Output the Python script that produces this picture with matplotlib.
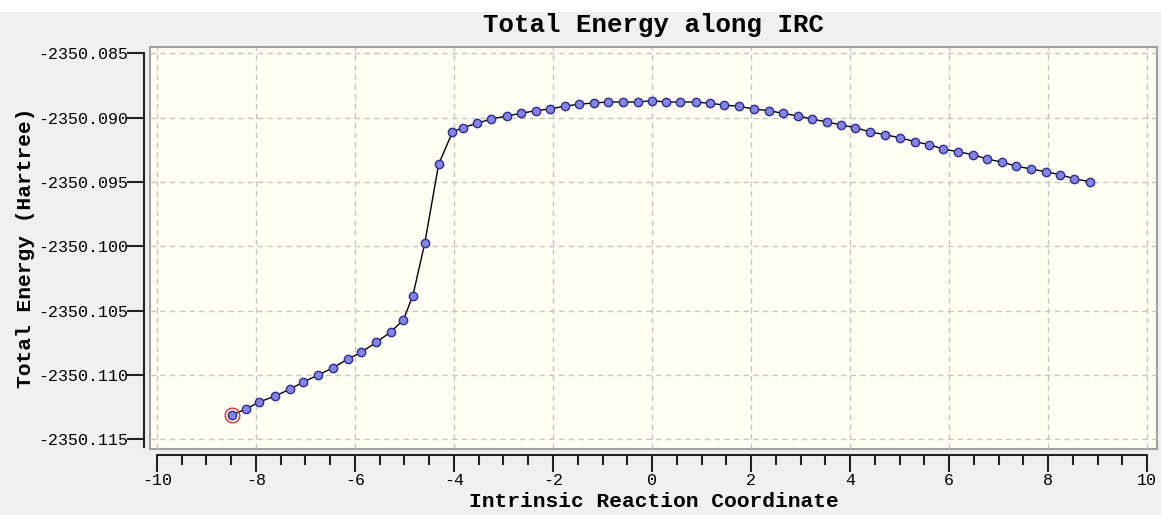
import matplotlib
matplotlib.use("Agg")
import matplotlib.pyplot as plt
from matplotlib.ticker import FixedLocator, MultipleLocator, FuncFormatter
from matplotlib.patches import Rectangle

# ---- data ----
irc = [-8.49, -8.21, -7.93, -7.61, -7.32, -7.04, -6.74, -6.44, -6.15, -5.87,
       -5.57, -5.28, -5.02, -4.83, -4.59, -4.31, -4.03, -3.82, -3.53, -3.25,
       -2.93, -2.64, -2.35, -2.07, -1.75, -1.47, -1.18, -0.89, -0.59, -0.29,
       0.00, 0.29, 0.57, 0.88, 1.18, 1.46, 1.75, 2.06, 2.36, 2.64,
       2.94, 3.24, 3.54, 3.82, 4.11, 4.41, 4.71, 5.00, 5.31, 5.60,
       5.88, 6.18, 6.48, 6.77, 7.06, 7.35, 7.65, 7.95, 8.24, 8.53, 8.84]
energy = [-2350.11311, -2350.11267, -2350.11210, -2350.11164, -2350.11112,
          -2350.11055, -2350.11000, -2350.10944, -2350.10878, -2350.10824,
          -2350.10746, -2350.10668, -2350.10570, -2350.10383, -2350.09975,
          -2350.09363, -2350.09111, -2350.09077, -2350.09044, -2350.09011,
          -2350.08987, -2350.08966, -2350.08946, -2350.08933, -2350.08910,
          -2350.08896, -2350.08886, -2350.08879, -2350.08879, -2350.08879,
          -2350.08868, -2350.08879, -2350.08879, -2350.08879, -2350.08889,
          -2350.08902, -2350.08912, -2350.08933, -2350.08946, -2350.08966,
          -2350.08987, -2350.09011, -2350.09034, -2350.09057, -2350.09078,
          -2350.09112, -2350.09133, -2350.09156, -2350.09187, -2350.09210,
          -2350.09244, -2350.09265, -2350.09288, -2350.09322, -2350.09345,
          -2350.09376, -2350.09399, -2350.09420, -2350.09444, -2350.09475,
          -2350.09498]
x_ticks = [-10, -8, -6, -4, -2, 0, 2, 4, 6, 8, 10]
y_ticks = [-2350.115, -2350.110, -2350.105, -2350.100, -2350.095, -2350.090, -2350.085]
title = "Total Energy along IRC"
x_label = "Intrinsic Reaction Coordinate"
y_label = "Total Energy (Hartree)"

W, H = 1161, 515
fig = plt.figure(figsize=(W / 100, H / 100), dpi=100)
fig.patch.set_facecolor("#f0f0f0")
# white strip at top
fig.patches.append(Rectangle((0, 1 - 12 / H), 1, 12 / H, transform=fig.transFigure,
                             facecolor="white", edgecolor="none", zorder=0))

left, right, top, bottom = 150, 1157, 47, 449
ax = fig.add_axes([left / W, 1 - bottom / H, (right - left) / W, (bottom - top) / H])
ax.set_facecolor("#fffff4")
ax.patch.set_edgecolor("#a0a0a0")
ax.patch.set_linewidth(1.5)

ax.set_xlim(-10.14, 10.20)
ax.set_ylim(-2350.11576, -2350.08451)

mono = "Liberation Mono"

ax.plot(irc, energy, color="black", lw=1.0, zorder=3)
ax.plot(irc, energy, linestyle="none", marker="o", ms=6, mfc="#8585e0",
        mec="#2b2b9c", mew=1.0, zorder=4)
ax.plot(irc[0], energy[0], linestyle="none", marker="o", ms=10.5, mfc="none",
        mec="#e03030", mew=1.0, zorder=5)

ax.xaxis.set_major_locator(FixedLocator(x_ticks))
ax.xaxis.set_minor_locator(MultipleLocator(0.5))
ax.yaxis.set_major_locator(FixedLocator(y_ticks))
ax.xaxis.set_major_formatter(FuncFormatter(lambda v, p: f"{v:g}"))
ax.yaxis.set_major_formatter(FuncFormatter(lambda v, p: f"{v:.3f}"))

ax.grid(True, which="major", color="#c4c4c4", linestyle=(0, (4, 3)), lw=1.0)
ax.set_axisbelow(True)

for s in ["top", "right"]:
    ax.spines[s].set_visible(False)
for s in ["left", "bottom"]:
    ax.spines[s].set_position(("outward", 4))
    ax.spines[s].set_color("#222222")
    ax.spines[s].set_linewidth(1.5)
ax.spines["bottom"].set_bounds(-10, 10)
ax.spines["left"].set_bounds(-2350.1156, -2350.085)

ax.tick_params(axis="both", which="major", direction="out", length=12, width=1.5,
               color="#222222", labelsize=12, pad=3)
ax.tick_params(axis="x", which="major", pad=1)
ax.tick_params(axis="y", which="major", pad=0)
ax.tick_params(axis="x", which="minor", direction="out", length=7, width=1.5,
               color="#222222")
for lab in ax.get_xticklabels() + ax.get_yticklabels():
    lab.set_fontfamily(mono)

ax.set_title(title, fontfamily=mono, fontweight="bold", fontsize=18.5, pad=11)
ax.set_xlabel(x_label, fontfamily=mono, fontweight="bold", fontsize=15.3, labelpad=3)
ax.set_ylabel(y_label, fontfamily=mono, fontweight="bold", fontsize=15.3, labelpad=2)

fig.savefig("out.png", dpi=100, facecolor=fig.get_facecolor())
